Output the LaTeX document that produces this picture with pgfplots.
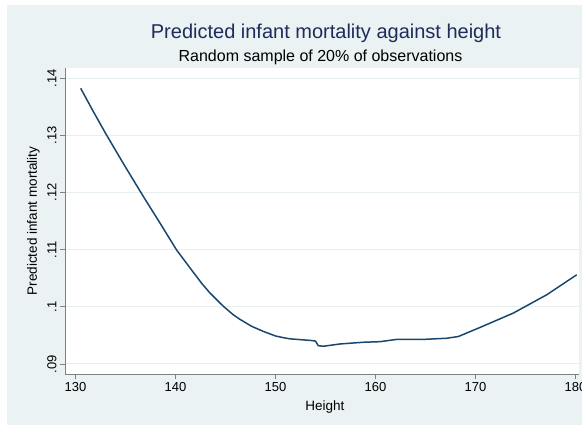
\documentclass[border=0pt]{standalone}
\usepackage{pgfplots}
\pgfplotsset{compat=1.18}
\usepackage{fontspec}
\setmainfont{Liberation Sans}
\definecolor{statabg}{RGB}{234,242,243}
\definecolor{statagrid}{RGB}{230,238,240}
\definecolor{statanavy}{RGB}{26,71,111}
\definecolor{titlenavy}{RGB}{30,44,92}

\begin{document}
\begin{tikzpicture}[x=1pt,y=1pt]
\useasboundingbox (0,0) rectangle (582,432);
\fill[white] (0,0) rectangle (582,432);
\fill[statabg] (7,7) rectangle (582,427);
\begin{axis}[
  at={(65pt,58pt)}, anchor=south west,
  scale only axis, width=514pt, height=306pt,
  xmin=128.95, xmax=180.35, ymin=0.08825, ymax=0.14175,
  axis x line*=bottom, axis y line*=left,
  axis line style={-, black!50, line width=0.8pt},
  axis background/.style={fill=white},
  xtick={130,140,150,160,170,180},
  ytick={0.09,0.10,0.11,0.12,0.13,0.14},
  yticklabels={.09,.1,.11,.12,.13,.14},
  tick align=outside, major tick length=5pt,
  tick style={black!50, line width=0.8pt},
  ymajorgrids, grid style={statagrid, line width=1pt},
  /pgf/number format/assume math mode=true,
  ticklabel style={font=\fontsize{13}{13}\selectfont},
  yticklabel style={rotate=90, anchor=south},
  xlabel={Height}, ylabel={Predicted infant mortality},
  label style={font=\fontsize{13.5}{13.5}\selectfont},
  xlabel style={at={(axis description cs:0.5058,-0.1209)}, anchor=base},
  ylabel style={at={(axis description cs:-0.0545,0.5)}, anchor=base},
]
\addplot[statanavy, line width=1.5pt, line join=round] coordinates {
(130.52,0.1382) (131.70,0.1344) (132.95,0.1305) (134.80,0.1250)
(136.78,0.1193) (138.50,0.1145) (140.12,0.1099) (141.45,0.1068)
(142.62,0.1041) (143.45,0.1024) (144.78,0.1001) (145.78,0.0986)
(146.45,0.0978) (147.60,0.0966) (148.78,0.0957) (150.00,0.0949)
(150.78,0.0946) (151.45,0.0944) (153.62,0.0941) (154.00,0.0940)
(154.28,0.0932) (154.78,0.0931) (156.45,0.0935) (158.78,0.0938)
(160.45,0.0939) (162.12,0.0943) (164.78,0.0943) (167.12,0.0945)
(168.28,0.0948) (170.60,0.0965) (173.78,0.0989) (177.12,0.1021)
(180.12,0.1056)
};
\end{axis}
\node[font=\fontsize{20}{20}\selectfont, text=titlenavy, anchor=base] at (326,393) {Predicted infant mortality against height};
\node[font=\fontsize{16}{16}\selectfont, anchor=base] at (320.5,370.3) {Random sample of 20\% of observations};
\end{tikzpicture}
\end{document}
